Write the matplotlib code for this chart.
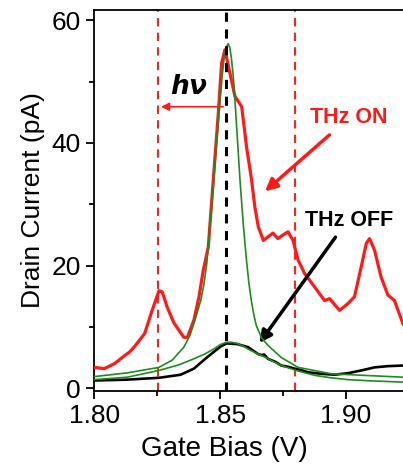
import matplotlib
matplotlib.use("Agg")
import matplotlib.pyplot as plt
from matplotlib.ticker import MultipleLocator

plt.rcParams['font.family'] = ['Liberation Sans', 'DejaVu Sans']

# THz ON (red, measured)
thz_on_x = [1.800, 1.804, 1.808, 1.812, 1.814, 1.816, 1.820, 1.823, 1.8257, 1.827, 1.829,
            1.8317, 1.8356, 1.837, 1.8396, 1.8416, 1.8433, 1.8453, 1.8473, 1.8493, 1.8506,
            1.8519, 1.8539, 1.8559, 1.8586, 1.8605, 1.8625, 1.8638, 1.8652, 1.8672, 1.8691,
            1.871, 1.873, 1.875, 1.877, 1.879, 1.881, 1.8836, 1.8876, 1.8915, 1.8935, 1.8975,
            1.9008, 1.9034, 1.9061, 1.9081, 1.9094, 1.9114, 1.914, 1.9167, 1.9193, 1.9227]
thz_on_y = [3.4, 3.2, 4.0, 5.3, 5.9, 6.8, 8.9, 12.7, 15.9, 15.7, 13.2,
            10.6, 8.3, 8.3, 11.1, 14.9, 19.2, 23.0, 34.0, 44.9, 53.0,
            55.2, 51.4, 47.6, 45.9, 39.4, 34.0, 29.6, 26.3, 24.1, 24.7,
            25.3, 24.4, 25.0, 25.5, 24.1, 20.9, 18.7, 16.5, 14.3, 14.6, 12.7,
            13.8, 14.9, 19.8, 23.6, 24.4, 22.5, 18.1, 15.2, 14.3, 10.5]

# THz OFF (black, measured)
thz_off_x = [1.800, 1.8131, 1.8257, 1.8343, 1.8396, 1.845, 1.8502, 1.8526, 1.8568, 1.8611,
             1.865, 1.8665, 1.8675, 1.869, 1.872, 1.8743, 1.877, 1.8796, 1.882, 1.8849,
             1.8902, 1.8955, 1.9008, 1.9061, 1.9114, 1.9167, 1.9227]
thz_off_y = [1.26, 1.4, 1.7, 2.2, 3.2, 5.1, 6.8, 7.3, 7.2, 6.7,
             5.6, 5.4, 5.5, 4.8, 4.3, 3.7, 3.5, 3.2, 3.0, 2.6,
             2.35, 2.2, 2.45, 2.9, 3.4, 3.6, 3.7]

# fits (green)
fit_on_x = [1.800, 1.8131, 1.8257, 1.831, 1.8356, 1.838, 1.840, 1.8423, 1.8435, 1.8447,
            1.846, 1.8473, 1.8486, 1.8499, 1.8508, 1.8515, 1.8524, 1.8532, 1.8539, 1.8545,
            1.8552, 1.8559, 1.8569, 1.8579, 1.8592, 1.8605, 1.8614, 1.8624, 1.8634, 1.8644,
            1.8665, 1.869, 1.8743, 1.881, 1.8942, 1.9227]
fit_on_y = [1.9, 2.5, 3.4, 4.6, 6.7, 8.6, 11.1, 14.3, 16.8, 20.3,
            26.5, 33.0, 40.0, 46.5, 50.8, 53.5, 55.5, 56.2, 55.5, 53.8,
            51.0, 47.0, 40.5, 34.0, 26.8, 20.8, 17.3, 14.3, 12.0, 10.2,
            8.2, 7.0, 5.0, 3.4, 2.35, 1.8]

fit_off_x = [1.800, 1.8131, 1.8257, 1.8335, 1.8396, 1.844, 1.8475, 1.850, 1.8526, 1.8545,
             1.8568, 1.859, 1.8615, 1.8645, 1.8677, 1.8743, 1.881, 1.8876, 1.894, 1.9008,
             1.910, 1.9227]
fit_off_y = [1.4, 1.8, 2.9, 3.8, 4.8, 5.6, 6.4, 7.1, 7.5, 7.5,
             7.3, 6.9, 6.3, 5.7, 5.1, 3.7, 2.8, 2.1, 1.7, 1.4,
             1.2, 1.0]

center_bias = 1.8523
side_bias = [1.8254, 1.8797]

fig = plt.figure(figsize=(4.03, 4.69), dpi=100)
ax = fig.add_axes([0.234, 0.167, 0.766, 0.812])

for xb in side_bias:
    ax.axvline(xb, color='#ff2020', lw=1.5, dashes=(4, 3), zorder=1)
ax.axvline(center_bias, color='black', lw=2.2, dashes=(3, 2.5), zorder=5)

ax.plot(thz_on_x, thz_on_y, color='#ff1a1a', lw=2.3, zorder=3)
ax.plot(thz_off_x, thz_off_y, color='black', lw=1.9, zorder=3)
ax.plot(fit_on_x, fit_on_y, color='#1f8a1f', lw=1.2, zorder=4)
ax.plot(fit_off_x, fit_off_y, color='#1f8a1f', lw=1.2, zorder=4)

# h nu arrow
ax.annotate('', xy=(side_bias[0], 45.9), xytext=(center_bias, 45.9),
            arrowprops=dict(arrowstyle='-|>', color='#ff1a1a', lw=1.2, mutation_scale=12))
ax.text(1.8377, 49.2, r'$\boldsymbol{h\nu}$', fontsize=19, ha='center', va='center')

ax.annotate('', xy=(1.867, 31.8), xytext=(1.8943, 41.6),
            arrowprops=dict(arrowstyle='-|>', color='#ff1a1a', lw=2.5, mutation_scale=18))
ax.text(1.9013, 44.1, 'THz ON', color='#ff1a1a', fontsize=15.5, fontweight='bold',
        ha='center', va='center')

ax.annotate('', xy=(1.865, 7.0), xytext=(1.8965, 25.0),
            arrowprops=dict(arrowstyle='-|>', color='black', lw=2.5, mutation_scale=18))
ax.text(1.9013, 27.3, 'THz OFF', color='black', fontsize=15.5, fontweight='bold',
        ha='center', va='center')

ax.set_xlim(1.80, 1.9227)
ax.set_ylim(-0.4, 61.7)
ax.xaxis.set_minor_locator(MultipleLocator(0.025))
ax.yaxis.set_major_locator(MultipleLocator(20))
ax.yaxis.set_minor_locator(MultipleLocator(10))
ax.set_xticks([1.80, 1.85, 1.90])
ax.set_xticklabels(['1.80', '1.85', '1.90'])
ax.tick_params(which='major', direction='out', length=6, width=1.3, labelsize=19)
ax.tick_params(which='minor', direction='out', length=3.5, width=1.3)
ax.spines['right'].set_visible(False)
for s in ['left', 'bottom', 'top']:
    ax.spines[s].set_linewidth(1.3)

ax.set_xlabel('Gate Bias (V)', fontsize=20)
ax.xaxis.set_label_coords(0.42, -0.12)
ax.set_ylabel('Drain Current (pA)', fontsize=19, labelpad=5)

fig.savefig('out.png', dpi=100)
